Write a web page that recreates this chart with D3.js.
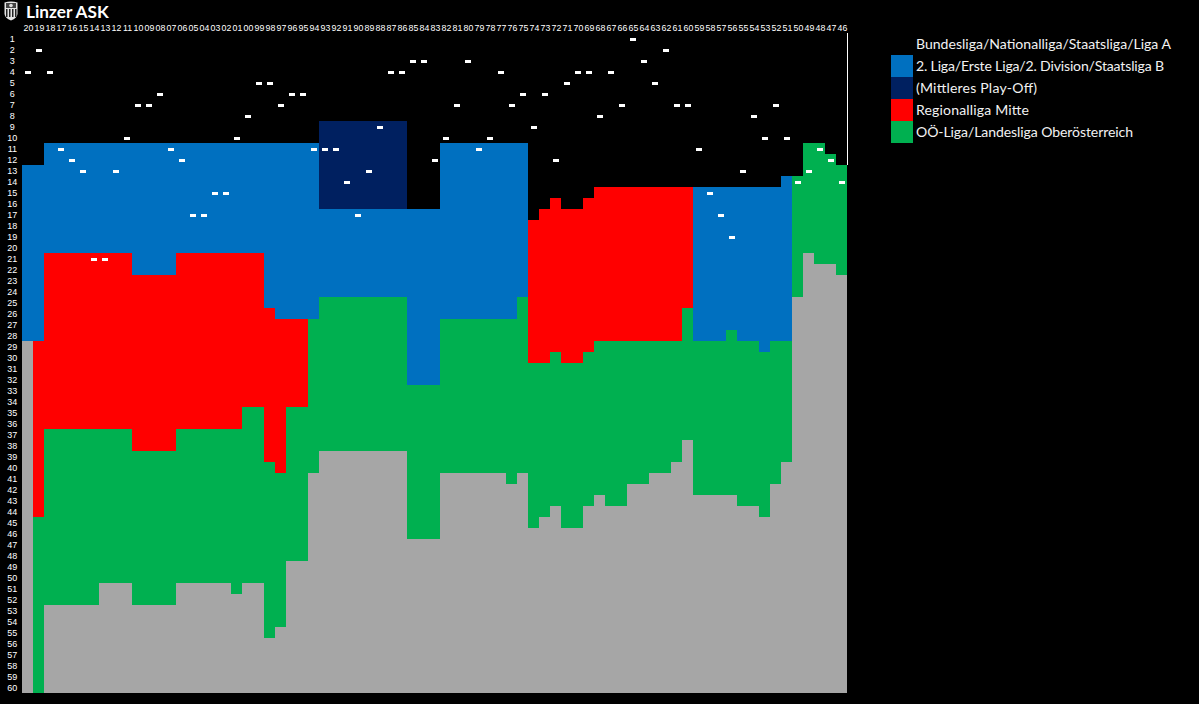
<!DOCTYPE html>
<html><head><meta charset="utf-8">
<style>html,body{margin:0;padding:0;background:#000;overflow:hidden}svg{display:block}</style>
<script src="https://cdnjs.cloudflare.com/ajax/libs/d3/7.8.5/d3.min.js"></script>
</head><body><svg id="c" width="1199" height="704"></svg>
<script>
const seasons = ["20","19","18","17","16","15","14","13","12","11","10","09","08","07","06","05","04","03","02","01","00","99","98","97","96","95","94","93","92","91","90","89","88","87","86","85","84","83","82","81","80","79","78","77","76","75","74","73","72","71","70","69","68","67","66","65","64","63","62","61","60","59","58","57","56","55","54","53","52","51","50","49","48","47","46"];
const ranks = d3.range(1, 61);
const clubRank = [4,2,4,11,12,13,21,21,13,10,7,7,6,11,12,17,17,15,15,10,8,5,5,7,6,6,11,11,11,14,17,13,9,4,4,3,3,12,10,7,3,11,10,4,7,6,9,6,12,5,4,4,8,4,7,1,3,5,2,7,7,11,15,17,19,13,8,10,7,10,14,13,11,12,14];
const bundesligaEnd = [12,12,10,10,10,10,10,10,10,10,10,10,10,10,10,10,10,10,10,10,10,10,10,10,10,10,10,8,8,8,8,8,8,8,8,16,16,16,10,10,10,10,10,10,10,10,17,16,15,16,16,15,14,14,14,14,14,14,14,14,14,14,14,14,14,14,14,14,14,13,13,10,10,11,12];
const playoffEnd = [12,12,10,10,10,10,10,10,10,10,10,10,10,10,10,10,10,10,10,10,10,10,10,10,10,10,10,16,16,16,16,16,16,16,16,16,16,16,10,10,10,10,10,10,10,10,17,16,15,16,16,15,14,14,14,14,14,14,14,14,14,14,14,14,14,14,14,14,14,13,13,10,10,11,12];
const zweiteEnd = [28,28,20,20,20,20,20,20,20,20,22,22,22,22,20,20,20,20,20,20,20,20,25,26,26,26,26,24,24,24,24,24,24,24,24,32,32,32,26,26,26,26,26,26,26,24,17,16,15,16,16,15,14,14,14,14,14,14,14,14,14,28,28,28,27,28,28,29,28,28,13,10,10,11,12];
const regionalEnd = [28,44,36,36,36,36,36,36,36,36,38,38,38,38,36,36,36,36,36,36,34,34,39,40,34,34,26,24,24,24,24,24,24,24,24,32,32,32,26,26,26,26,26,26,26,24,30,30,29,30,30,29,28,28,28,28,28,28,28,28,25,28,28,28,27,28,28,29,28,28,13,10,10,11,12];
const landesligaEnd = [28,60,52,52,52,52,52,50,50,50,52,52,52,52,50,50,50,50,50,51,50,50,55,54,48,48,40,38,38,38,38,38,38,38,38,46,46,46,40,40,40,40,40,40,41,40,45,44,43,45,45,43,42,43,43,41,41,40,40,39,37,42,42,42,42,43,43,44,41,39,24,20,21,21,22];
const totalRows = 60;
const legendLabels = ["Bundesliga/Nationalliga/Staatsliga/Liga A","2. Liga/Erste Liga/2. Division/Staatsliga B","(Mittleres Play-Off)","Regionalliga Mitte","OÖ-Liga/Landesliga Oberösterreich"];
const legendColors = ["#000000","#0070C0","#002060","#FF0000","#00B050"];
const greyColor = "#A6A6A6";

const svg = d3.select("#c");
const x = d3.scaleBand().domain(seasons).range([22, 847]);
const y = d3.scaleLinear().domain([0, totalRows]).range([33, 693]);
const layers = [
  {from:bundesligaEnd, to:playoffEnd, color:legendColors[2]},
  {from:playoffEnd, to:zweiteEnd, color:legendColors[1]},
  {from:zweiteEnd, to:regionalEnd, color:legendColors[3]},
  {from:regionalEnd, to:landesligaEnd, color:legendColors[4]},
  {from:landesligaEnd, to:seasons.map(()=>totalRows), color:greyColor},
];
layers.forEach(l => {
  svg.append("g").attr("shape-rendering","crispEdges").selectAll("rect")
    .data(seasons.map((s,i)=>({s,a:l.from[i],b:l.to[i]})).filter(d=>d.b>d.a))
    .join("rect")
    .attr("x",d=>x(d.s)).attr("width",x.bandwidth())
    .attr("y",d=>y(d.a)).attr("height",d=>y(d.b)-y(d.a))
    .attr("fill",l.color);
});
svg.append("line").attr("x1",847.5).attr("x2",847.5).attr("y1",y(0)).attr("y2",y(bundesligaEnd[bundesligaEnd.length-1]))
  .attr("stroke","#fff").attr("stroke-width",1).attr("shape-rendering","crispEdges");
svg.append("g").attr("shape-rendering","crispEdges").selectAll("rect").data(seasons.map((s,i)=>({s,r:clubRank[i]})))
  .join("rect")
  .attr("x",d=>x(d.s)+x.bandwidth()/2-2.5).attr("width",6)
  .attr("y",d=>y(d.r-0.5)-0.5).attr("height",3)
  .attr("fill","#fff");
const tickFont = "'Liberation Sans',Arial,sans-serif";
const xAxis = d3.axisTop(x).tickSize(0).tickPadding(0);
const gx = svg.append("g").attr("transform","translate(1,32)").call(xAxis);
gx.select(".domain").remove();
gx.selectAll("text").attr("fill","#fff").attr("font-family",tickFont).attr("font-size",8.8).attr("y",-1);
svg.append("g").selectAll("text").data(ranks).join("text")
  .attr("x",12.3).attr("y",d=>y(d-0.5)+0.5).attr("dy","0.36em").attr("text-anchor","middle")
  .attr("fill","#fff").attr("font-family",tickFont).attr("font-size",9).text(d=>d);
svg.append("text").attr("x",26).attr("y",18).attr("fill","#fff").attr("font-family","Lato,Carlito,sans-serif")
  .attr("font-weight",700).attr("font-size",17.2).text("Linzer ASK");
const crest = svg.append("g");
crest.append("path").attr("d","M4.5 2.5 Q11 0.5 17.5 2.5 L17.5 14 Q17 18 11 20.5 Q5 18 4.5 14 Z").attr("fill","#e4e4e4");
crest.append("rect").attr("x",6).attr("y",3).attr("width",10).attr("height",5).attr("fill","#444");
crest.append("circle").attr("cx",11).attr("cy",5.5).attr("r",1.8).attr("fill","#ddd");
[6,9,12,15].forEach(v=>crest.append("rect").attr("x",v).attr("y",9).attr("width",1.5).attr("height",8).attr("fill","#222"));
const rowH = 22;
const legendTextWidths = [255,248,121,113,217];
const lg = svg.append("g").selectAll("g").data(legendLabels.map((t,i)=>({t,c:legendColors[i],i}))).join("g")
  .attr("transform",d=>`translate(891,${33+d.i*rowH})`);
lg.append("rect").attr("width",22).attr("height",rowH).attr("fill",d=>d.c);
lg.append("text").attr("x",25).attr("y",rowH/2).attr("dy","0.35em").attr("fill","#f2f2f2")
  .attr("font-family","Lato,Carlito,sans-serif").attr("font-size",14.05)
  .attr("textLength",d=>legendTextWidths[d.i]).attr("lengthAdjust","spacing").text(d=>d.t);
</script></body></html>
